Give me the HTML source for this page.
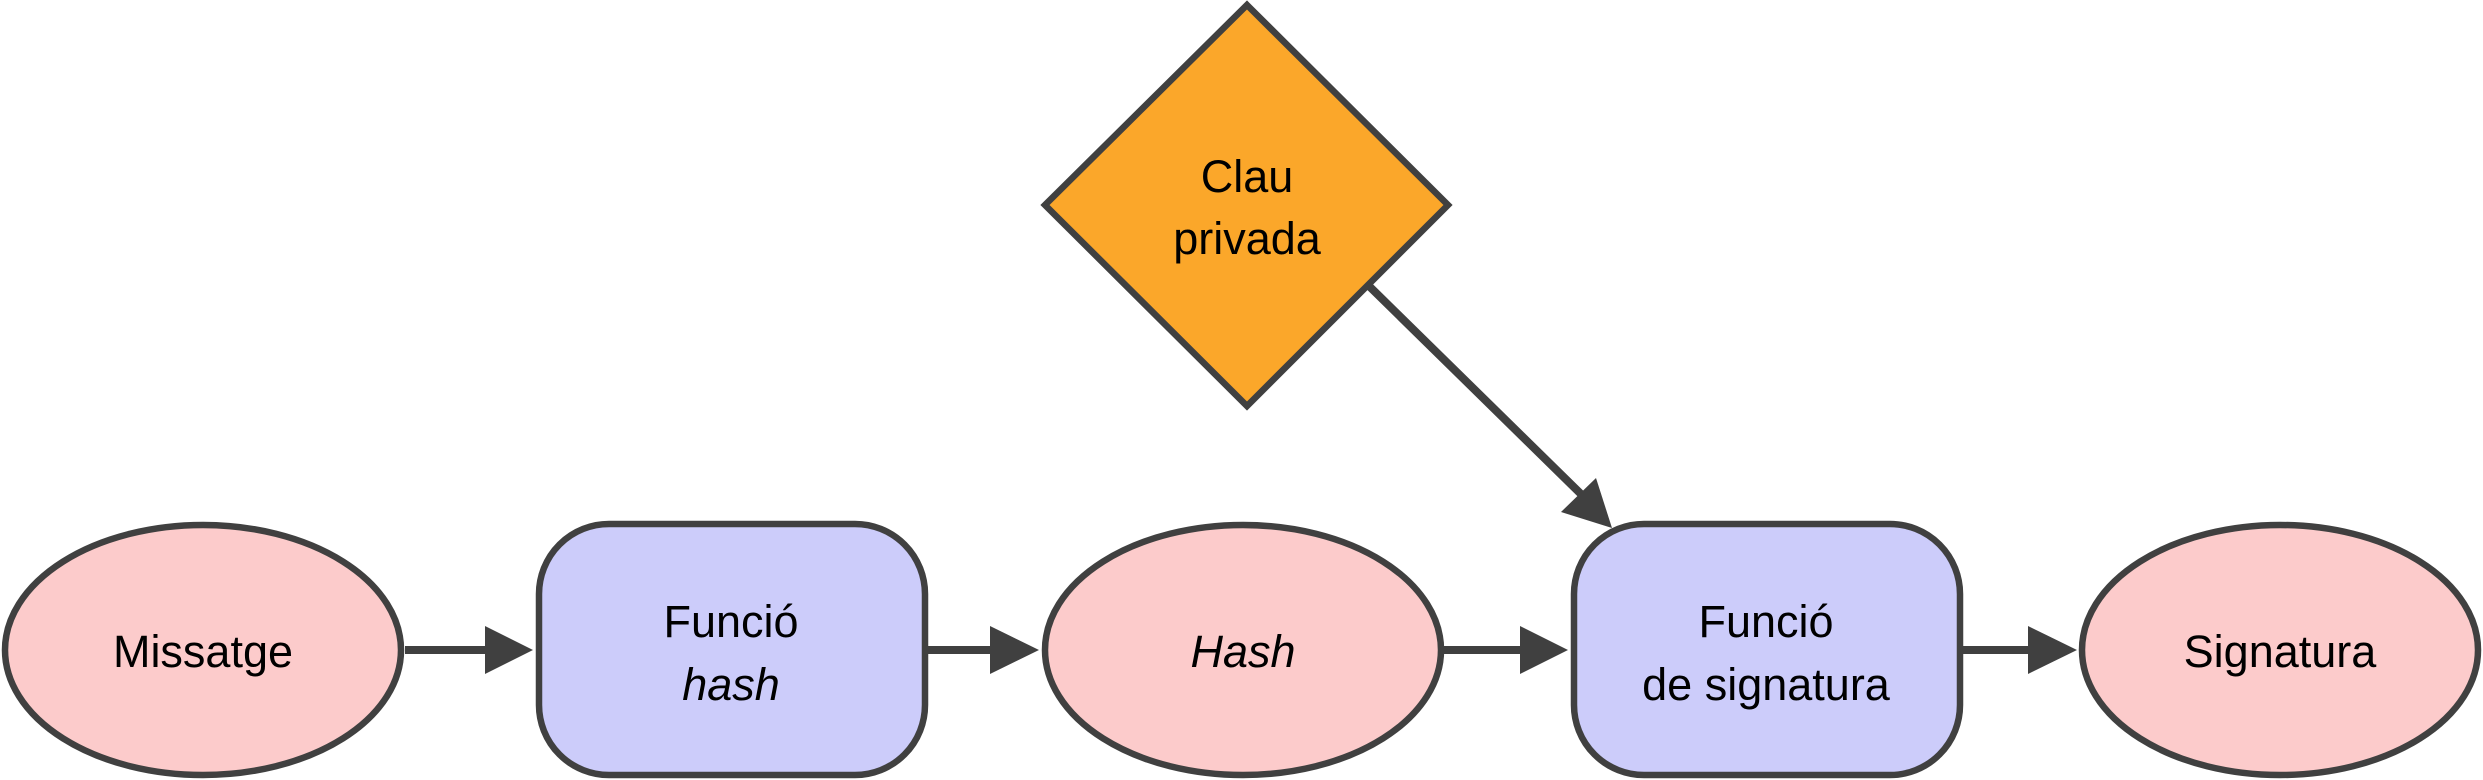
<!DOCTYPE html>
<html><head><meta charset="utf-8"><style>
html,body{margin:0;padding:0;background:#fff;}
svg{display:block;}
text{font-family:"Liberation Sans",Arial,sans-serif;font-size:45px;fill:#000;text-anchor:middle;}
</style></head><body>
<svg width="2483" height="780" viewBox="0 0 2483 780" xmlns="http://www.w3.org/2000/svg">
<g stroke="#404040" stroke-width="6.5">
<ellipse cx="203" cy="650" rx="198" ry="125" fill="#fccbcb"/>
<ellipse cx="1243" cy="650" rx="198" ry="125" fill="#fccbcb"/>
<ellipse cx="2280" cy="650" rx="198" ry="125" fill="#fccbcb"/>
<rect x="539" y="524" width="386" height="251" rx="70" fill="#ccccfa"/>
<rect x="1574" y="524" width="386" height="251" rx="70" fill="#ccccfa"/>
<polygon points="1247,5 1448,205 1247,406 1045,205" fill="#fba72a"/>
</g>
<g stroke="#404040" stroke-width="8">
<line x1="405" y1="650" x2="490" y2="650"/>
<line x1="925" y1="650" x2="995" y2="650"/>
<line x1="1444" y1="650" x2="1525" y2="650"/>
<line x1="1960" y1="650" x2="2032" y2="650"/>
<line x1="1368" y1="285" x2="1585" y2="498"/>
</g>
<g fill="#404040">
<polygon points="485,626 533,650 485,674"/>
<polygon points="990,626 1039,650 990,674"/>
<polygon points="1520,626 1568,650 1520,674"/>
<polygon points="2028,626 2077,650 2028,674"/>
<polygon points="1612,528 1561,512 1596,478"/>
</g>
<text x="203" y="667">Missatge</text>
<text x="731" y="637">Funció</text>
<text x="731" y="700" font-style="italic">hash</text>
<text x="1243" y="667" font-style="italic">Hash</text>
<text x="1766" y="637">Funció</text>
<text x="1766" y="700">de signatura</text>
<text x="2280" y="667">Signatura</text>
<text x="1247" y="192">Clau</text>
<text x="1247" y="254">privada</text>
</svg>
</body></html>
